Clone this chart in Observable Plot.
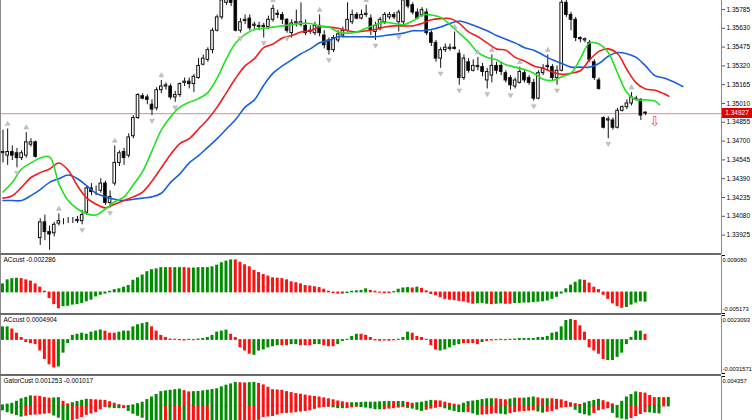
<!DOCTYPE html>
<html><head><meta charset="utf-8">
<script src="https://cdn.jsdelivr.net/npm/d3@7"></script>
<script src="https://cdn.jsdelivr.net/npm/@observablehq/plot@0.6"></script>
<style>
html,body{margin:0;padding:0;background:#fff;overflow:hidden;}
#chart{position:relative;width:752px;height:420px;overflow:hidden;background:#fff;font-family:"Liberation Sans",Arial,sans-serif;}
#chart svg{position:absolute;left:0;}
.sep{position:absolute;left:0;width:721px;height:2px;background:#6a6a6a;}
.pricebox{position:absolute;left:722px;width:30px;height:10px;background:#e00000;color:#fff;font-size:6.5px;line-height:10px;text-align:center;font-family:"Liberation Sans",Arial,sans-serif;}
</style></head>
<body><div id="chart"></div>
<script>
// ---------- price data (bar index 0..138) ----------
const open = [1.3460,1.3458,1.3461,1.3460,1.3456,1.3458,1.3467,1.3469,1.3390,1.3403,1.3395,1.3394,1.3402,1.3404,1.3404,1.3404,1.3404,1.3404,1.3411,1.3431,1.3429,1.3429,1.3435,1.3419,1.3435,1.3452,1.3461,1.3458,1.3474,1.3489,1.3507,1.3506,1.3500,1.3497,1.3512,1.3515,1.3515,1.3506,1.3508,1.3518,1.3519,1.3517,1.3522,1.3533,1.3537,1.3545,1.3561,1.3572,1.3584,1.3590,1.3586,1.3561,1.3569,1.3571,1.3565,1.3564,1.3564,1.3564,1.3570,1.3575,1.3574,1.3570,1.3559,1.3567,1.3566,1.3565,1.3561,1.3559,1.3565,1.3557,1.3553,1.3545,1.3553,1.3557,1.3561,1.3568,1.3574,1.3571,1.3574,1.3571,1.3560,1.3563,1.3568,1.3572,1.3574,1.3568,1.3568,1.3586,1.3582,1.3576,1.3574,1.3576,1.3559,1.3551,1.3538,1.3545,1.3546,1.3547,1.3542,1.3522,1.3535,1.3528,1.3531,1.3531,1.3520,1.3524,1.3532,1.3532,1.3526,1.3522,1.3515,1.3518,1.3526,1.3522,1.3518,1.3505,1.3526,1.3531,1.3531,1.3522,1.3528,1.3584,1.3574,1.3570,1.3555,1.3553,1.3551,1.3535,1.3520,1.3489,1.3487,1.3487,1.3481,1.3495,1.3498,1.3501,1.3504,1.3504,1.34935];
const close = [1.3461,1.3461,1.3458,1.3456,1.3460,1.3469,1.3469,1.3457,1.3403,1.3395,1.3393,1.3401,1.3404,1.3404,1.3404,1.3404,1.3405,1.3409,1.3431,1.3428,1.3429,1.3435,1.3419,1.3424,1.3452,1.3460,1.3456,1.3473,1.3489,1.3508,1.3505,1.3504,1.3496,1.3512,1.3515,1.3516,1.3506,1.3508,1.3517,1.3519,1.3517,1.3523,1.3532,1.3538,1.3545,1.3561,1.3572,1.3586,1.3590,1.3584,1.3561,1.3568,1.3570,1.3563,1.3566,1.3565,1.3565,1.3570,1.3579,1.3574,1.3570,1.3561,1.3567,1.3568,1.3568,1.3559,1.3560,1.3565,1.3559,1.3549,1.3545,1.3555,1.3558,1.3561,1.3570,1.3574,1.3571,1.3574,1.3575,1.3561,1.3565,1.3570,1.3574,1.3574,1.3572,1.3576,1.3586,1.3581,1.3576,1.3571,1.3578,1.3559,1.3551,1.3538,1.3545,1.3547,1.3547,1.3546,1.3522,1.3538,1.3528,1.3532,1.3532,1.3527,1.3527,1.3532,1.3528,1.3527,1.3520,1.3516,1.3520,1.3527,1.3520,1.3518,1.3505,1.3526,1.3530,1.3532,1.3522,1.3528,1.3584,1.3574,1.3570,1.3555,1.3554,1.3554,1.3537,1.3522,1.3513,1.3481,1.3488,1.3481,1.3495,1.3498,1.3501,1.3506,1.3505,1.3491,1.34927];
const high = [1.3479,1.3480,1.3466,1.3464,1.3462,1.3477,1.3472,1.3470,1.3406,1.3409,1.3400,1.3403,1.3410,1.3406,1.3407,1.3407,1.3408,1.3413,1.3433,1.3435,1.3433,1.3439,1.3437,1.3429,1.3466,1.3462,1.3464,1.3476,1.3491,1.3509,1.3509,1.3508,1.3504,1.3514,1.3520,1.3518,1.3517,1.3511,1.3518,1.3522,1.3522,1.3525,1.3538,1.3541,1.3547,1.3563,1.3574,1.3590,1.3594,1.3594,1.3588,1.3571,1.3574,1.3574,1.3568,1.3568,1.3567,1.3573,1.3582,1.3578,1.3576,1.3571,1.3570,1.3578,1.3584,1.3570,1.3565,1.3568,1.3574,1.3561,1.3555,1.3557,1.3561,1.3564,1.3584,1.3578,1.3576,1.3578,1.3582,1.3574,1.3568,1.3572,1.3576,1.3576,1.3576,1.3578,1.3590,1.3590,1.3584,1.3579,1.3580,1.3579,1.3561,1.3553,1.3547,1.3550,1.3550,1.3560,1.3545,1.3541,1.3538,1.3537,1.3539,1.3534,1.3530,1.3541,1.3535,1.3535,1.3528,1.3524,1.3522,1.3531,1.3528,1.3524,1.3521,1.3528,1.3533,1.3541,1.3533,1.3532,1.3588,1.3590,1.3576,1.3572,1.3556,1.3555,1.3553,1.3537,1.3522,1.3490,1.3490,1.3489,1.3497,1.3499,1.3504,1.3510,1.3507,1.3505,1.3494];
const low = [1.3452,1.3450,1.3454,1.3448,1.3454,1.3456,1.3465,1.3456,1.3384,1.3388,1.3380,1.3391,1.3400,1.3401,1.3402,1.3402,1.3402,1.3401,1.3409,1.3425,1.3425,1.3427,1.3417,1.3415,1.3433,1.3449,1.3450,1.3456,1.3472,1.3488,1.3504,1.3500,1.3491,1.3495,1.3509,1.3512,1.3504,1.3502,1.3506,1.3515,1.3513,1.3510,1.3521,1.3532,1.3535,1.3542,1.3560,1.3570,1.3582,1.3581,1.3560,1.3559,1.3566,1.3561,1.3562,1.3561,1.3555,1.3562,1.3568,1.3571,1.3566,1.3559,1.3555,1.3564,1.3564,1.3557,1.3558,1.3557,1.3556,1.3546,1.3541,1.3543,1.3551,1.3555,1.3560,1.3566,1.3570,1.3570,1.3572,1.3557,1.3553,1.3561,1.3566,1.3570,1.3570,1.3560,1.3566,1.3579,1.3574,1.3570,1.3572,1.3557,1.3548,1.3535,1.3530,1.3543,1.3544,1.3545,1.3516,1.3520,1.3526,1.3527,1.3528,1.3523,1.3513,1.3518,1.3525,1.3524,1.3518,1.3512,1.3513,1.3517,1.3518,1.3516,1.3503,1.3504,1.3524,1.3528,1.3520,1.3516,1.3527,1.3572,1.3561,1.3552,1.3551,1.3551,1.3535,1.3520,1.3512,1.3480,1.3472,1.3479,1.3480,1.3494,1.3496,1.3499,1.3503,1.3487,1.3491];
const currentPrice = 1.34927;
const yTicks = [1.35785,1.35630,1.35475,1.35320,1.35165,1.35010,1.34855,1.34700,1.34545,1.34390,1.34235,1.34080,1.33925];

// Alligator (values every 2 bars, shifted forward)
const jaw = [1.3421,1.3421,1.3421,1.3425,1.3430,1.3436,1.3439,1.3442,1.3439,1.3433,1.3427,1.3424,1.3422,1.3421,1.3422,1.3423,1.3424,1.3427,1.3436,1.3443,1.3452,1.3458,1.3465,1.3472,1.3480,1.3488,1.3498,1.3504,1.3516,1.3526,1.3532,1.3537,1.3542,1.3546,1.3551,1.3553,1.3556,1.3556,1.3556,1.3556,1.3556,1.3557,1.3558,1.3559,1.3561,1.3561,1.3562,1.3564,1.3567,1.3569,1.3567,1.3564,1.3561,1.3557,1.3554,1.3551,1.3547,1.3545,1.3541,1.3537,1.3534,1.3531,1.3531,1.3531,1.3534,1.3540,1.3543,1.3542,1.3539,1.3532,1.3524,1.3522,1.3519,1.3515];
const teeth = [1.3423,1.3425,1.3432,1.3440,1.3444,1.3447,1.3452,1.3446,1.3433,1.3423,1.3418,1.3415,1.3418,1.3421,1.3424,1.3428,1.3437,1.3448,1.3459,1.3468,1.3472,1.3480,1.3488,1.3498,1.3510,1.3522,1.3532,1.3538,1.3547,1.3550,1.3555,1.3557,1.3560,1.3561,1.3564,1.3564,1.3563,1.3561,1.3560,1.3561,1.3562,1.3564,1.3565,1.3565,1.3565,1.3567,1.3570,1.3571,1.3571,1.3567,1.3560,1.3556,1.3551,1.3546,1.3545,1.3539,1.3536,1.3532,1.3530,1.3527,1.3525,1.3526,1.3528,1.3537,1.3544,1.3546,1.3542,1.3529,1.3518,1.3513,1.3512,1.3509,1.3507];
const lips = [1.3428,1.3436,1.3447,1.3452,1.3456,1.3457,1.3435,1.3421,1.3414,1.3410,1.3409,1.3414,1.3420,1.3424,1.3434,1.3445,1.3462,1.3479,1.3490,1.3498,1.3502,1.3505,1.3510,1.3522,1.3538,1.3551,1.3558,1.3562,1.3563,1.3564,1.3565,1.3566,1.3567,1.3567,1.3565,1.3564,1.3560,1.3559,1.3560,1.3563,1.3566,1.3568,1.3567,1.3566,1.3569,1.3574,1.3574,1.3572,1.3566,1.3559,1.3552,1.3543,1.3539,1.3537,1.3533,1.3531,1.3529,1.3526,1.3521,1.3520,1.3523,1.3526,1.3538,1.3551,1.3550,1.3543,1.3526,1.3510,1.3504,1.3504,1.3503,1.3500];
const jawBars = d3.range(0, 147, 2);
const teethBars = [...d3.range(0, 143, 2), 143];
const lipsBars = [...d3.range(0, 141, 2), 141];

// Fractals and signal
const fractalUp = [1,5,12,24,34,58,64,68,74,78,97,102,105,111,117,135];
const fractalDown = [3,17,23,32,37,51,56,61,70,80,85,94,98,104,109,114,119,130];
const sellSignals = [{bar: 140, price: 1.3486}];

// ---------- Indicator panels ----------
const ac1 = [0.0020,0.0030,0.0033,0.0034,0.0033,0.0030,0.0027,0.0020,0.0012,0.0002,-0.0014,-0.0029,-0.0039,-0.0034,-0.0033,-0.0030,-0.0029,-0.0026,-0.0022,-0.0018,-0.0010,-0.0006,-0.0003,0.0002,0.0006,0.0008,0.0012,0.0016,0.0029,0.0035,0.0042,0.0050,0.0055,0.0057,0.0060,0.0060,0.0060,0.0060,0.0060,0.0060,0.0059,0.0059,0.0060,0.0060,0.0060,0.0062,0.0066,0.0072,0.0076,0.0079,0.0079,0.0073,0.0067,0.0062,0.0053,0.0048,0.0043,0.0039,0.0035,0.0034,0.0033,0.0030,0.0025,0.0023,0.0020,0.0016,0.0015,0.0013,0.0011,0.0007,0.0002,-0.0002,-0.0003,-0.0003,-0.0002,0.0002,0.0003,0.0004,0.0008,0.0004,0.0002,-0.0001,-0.0002,-0.0002,0.0001,0.0007,0.0010,0.0011,0.0010,0.0012,0.0009,0.0003,-0.0004,-0.0007,-0.0012,-0.0016,-0.0018,-0.0019,-0.0021,-0.0022,-0.0025,-0.0028,-0.0027,-0.0026,-0.0028,-0.0029,-0.0028,-0.0027,-0.0028,-0.0028,-0.0026,-0.0026,-0.0025,-0.0025,-0.0024,-0.0023,-0.0022,-0.0020,-0.0016,-0.0011,-0.0003,0.0008,0.0017,0.0024,0.0030,0.0029,0.0022,0.0012,0.0006,-0.0006,-0.0016,-0.0027,-0.0034,-0.0038,-0.0036,-0.0030,-0.0025,-0.0022,-0.002286];
const ac1Colors = [["g",4],["r",9],["g",23],["r",1],["g",2],["r",2],["g",9],["r",24],["g",5],["r",5],["g",4],["r",1],["g",1],["r",12],["g",3],["r",1],["g",2],["r",2],["g",15],["r",9],["g",5]];
const ac2 = [0.0012,0.0012,0.0010,0.0006,0.0002,-0.0002,-0.0003,-0.0004,-0.0010,-0.0018,-0.0023,-0.0026,-0.0025,-0.0012,-0.0003,0.0004,0.0005,0.0006,0.0005,0.0007,0.0008,0.0009,0.0008,0.0006,0.0006,0.0007,0.0008,0.0008,0.0012,0.0014,0.0015,0.0016,0.0012,0.0008,0.0004,0.0002,0.00005,0.00003,-0.00003,-0.00005,0.00003,-0.00003,0.00005,0.0001,0.0002,0.0004,0.0007,0.0008,0.0009,0.0005,0.0002,-0.0007,-0.0010,-0.0013,-0.0014,-0.0010,-0.0009,-0.0007,-0.0006,-0.0005,-0.0005,-0.0005,-0.0004,-0.0004,-0.0005,-0.0005,-0.0005,-0.0004,-0.0004,-0.0005,-0.0006,-0.0006,-0.0004,-0.0001,0.00003,0.0003,0.0005,0.0005,0.0004,0.0002,-0.00005,-0.00008,-0.00005,-0.00008,-0.00004,0.00003,0.0002,0.0007,0.0006,0.0003,0.0002,0.00003,-0.0005,-0.0009,-0.0010,-0.0009,-0.0007,-0.0005,-0.0004,-0.0003,-0.0003,-0.0003,-0.0004,-0.0002,-0.0001,-0.00005,-0.00003,0.00003,-0.00003,0.00003,0.00005,0.0001,0.0001,0.0001,0.0001,0.0002,0.0002,0.0003,0.0006,0.0007,0.0012,0.0018,0.0019,0.0018,0.0013,0.0007,-0.0007,-0.0010,-0.0013,-0.0018,-0.0019,-0.0019,-0.0016,-0.0012,-0.0004,0.0002,0.0008,0.0008,0.0004904];
const ac2Colors = [["g",2],["r",10],["g",10],["r",3],["g",7],["r",8],["g",1],["r",1],["g",7],["r",5],["g",6],["r",2],["g",2],["r",3],["g",2],["r",3],["g",5],["r",8],["g",3],["r",6],["g",5],["r",4],["g",1],["r",3],["g",1],["r",1],["g",14],["r",7],["g",8],["r",1]];
const gatorUp = [0.00017,0.00028,0.00041,0.0007,0.00106,0.00126,0.00148,0.00144,0.0014,0.00126,0.00115,0.00119,0.00123,0.0007,0.00032,0.00049,0.00066,0.00084,0.00098,0.00095,0.00091,0.00087,0.00083,0.00063,0.00041,0.00021,0.00004,0.00008,0.00017,0.00036,0.00057,0.00095,0.00132,0.00168,0.0021,0.0022,0.0023,0.00238,0.00246,0.00224,0.00206,0.0021,0.00213,0.00221,0.0023,0.00241,0.00252,0.0028,0.00304,0.00322,0.00344,0.0034,0.00336,0.0034,0.00344,0.00329,0.00308,0.00273,0.00238,0.00234,0.0023,0.0021,0.00196,0.00182,0.00172,0.0016,0.00148,0.0014,0.00132,0.00119,0.00106,0.00091,0.00074,0.00062,0.00049,0.00049,0.0005,0.00053,0.00057,0.00057,0.00058,0.00062,0.00066,0.00066,0.00065,0.00066,0.00066,0.00053,0.00041,0.00049,0.00057,0.0007,0.00083,0.00078,0.00074,0.00057,0.00041,0.00028,0.00017,0.00042,0.00066,0.00074,0.00083,0.00095,0.00106,0.00107,0.00106,0.00098,0.00091,0.00102,0.00115,0.00114,0.00115,0.00123,0.00132,0.00119,0.00106,0.00107,0.00106,0.00098,0.00091,0.0007,0.00049,0.00036,0.00025,0.00045,0.00066,0.00083,0.00098,0.00078,0.00057,0.00032,0.00008,0.0007,0.00132,0.00168,0.00206,0.00196,0.00189,0.00154,0.00123,0.00124,0.00123,0.001253];
const gatorDown = [-0.00057,-0.00084,-0.00106,-0.00126,-0.00148,-0.00136,-0.00123,-0.00119,-0.00115,-0.00106,-0.00098,-0.00132,-0.00164,-0.0021,-0.00246,-0.0021,-0.00181,-0.00154,-0.00123,-0.00104,-0.00083,-0.00042,-0.00008,-0.00017,-0.00025,-0.00026,-0.00025,-0.00066,-0.00106,-0.00136,-0.00164,-0.0021,-0.00252,-0.0028,-0.00304,-0.00303,-0.00304,-0.00298,-0.00294,-0.00295,-0.00294,-0.00273,-0.00252,-0.00238,-0.00221,-0.0023,-0.00238,-0.00259,-0.0028,-0.00284,-0.00287,-0.00274,-0.00263,-0.00252,-0.00238,-0.00196,-0.00154,-0.00147,-0.0014,-0.00119,-0.00098,-0.00095,-0.00091,-0.00083,-0.00074,-0.00066,-0.00057,-0.00036,-0.00017,-0.00008,-0.00004,-0.00014,-0.00025,-0.00026,-0.00025,-0.00013,-0.00004,-0.00011,-0.00017,-0.00028,-0.00041,-0.00041,-0.0004,-0.00032,-0.00025,-0.00017,-0.00008,-0.00021,-0.00032,-0.00049,-0.00066,-0.00049,-0.00032,-0.0002,-0.00008,-0.00028,-0.00049,-0.00066,-0.00083,-0.00083,-0.00082,-0.00102,-0.00123,-0.00119,-0.00115,-0.00106,-0.00098,-0.00106,-0.00115,-0.00098,-0.00083,-0.00074,-0.00066,-0.00062,-0.00057,-0.00074,-0.00091,-0.00078,-0.00066,-0.00042,-0.00017,-0.00008,-0.00004,-0.00049,-0.00098,-0.00115,-0.00132,-0.00095,-0.00057,-0.00042,-0.00025,-0.00094,-0.00164,-0.00176,-0.00189,-0.00168,-0.0014,-0.00112,-0.00083,-0.00087,-0.00095,-0.001017];

const panels = [
  {label: "ACcust -0.002286", domain: [-0.005173, 0.009080], ticks: ["-0.005173", "0.009080"]},
  {label: "ACcust 0.0004904", domain: [-0.0031571, 0.0023093], ticks: ["-0.0031571", "0.0023093"]},
  {label: "GatorCust 0.001253 -0.001017", domain: [-0.004357, 0.004357], ticks: [null, "0.004357"]}
];

// ---------- drawing ----------
const GREEN = "#008c00", RED = "#ff1010";
const FONT = "'Liberation Sans', Arial, sans-serif";
const xDomain = [-0.537, 154.32];
const chart = document.getElementById("chart");
const baseStyle = {fontFamily: FONT, fontSize: "6.5px", background: "transparent", overflow: "visible", color: "#000"};
function place(node, top) { node.style.top = top + "px"; chart.appendChild(node); }
const expand = (rle) => rle.flatMap(([c, n]) => Array(n).fill(c === "g" ? GREEN : RED));

const candles = open.map((o, i) => ({i, o, c: close[i], h: high[i], l: low[i]}));
const lineData = (bars, vals) => bars.map((b, k) => ({b, v: vals[k]}));

const main = Plot.plot({
  width: 752, height: 253, marginLeft: 0, marginRight: 31, marginTop: 0, marginBottom: 0,
  x: {domain: xDomain, axis: null},
  y: {domain: [1.337733, 1.358592]},
  style: baseStyle,
  marks: [
    Plot.ruleY([currentPrice], {stroke: "#f19a9a", strokeWidth: 1.2}),
    Plot.ruleX(candles, {x: "i", y1: "l", y2: "h", stroke: "#111", strokeWidth: 1, clip: true}),
    Plot.rect(candles, {x1: d => d.i - 0.28, x2: d => d.i + 0.28, y1: "o", y2: "c",
      fill: d => d.c >= d.o ? "#fff" : "#000", stroke: "#111", strokeWidth: 1, clip: true}),
    Plot.line(lineData(jawBars, jaw), {x: "b", y: "v", stroke: "#1c5fdc", strokeWidth: 1.6, curve: "catmull-rom"}),
    Plot.line(lineData(teethBars, teeth), {x: "b", y: "v", stroke: "#f01c1c", strokeWidth: 1.6, curve: "catmull-rom"}),
    Plot.line(lineData(lipsBars, lips), {x: "b", y: "v", stroke: "#22e022", strokeWidth: 1.6, curve: "catmull-rom"}),
    Plot.dot(fractalUp, {x: d => d, y: d => high[d], symbol: "triangle", r: 1.8, fill: "#c4c4c4", stroke: "#a0a0a0", strokeWidth: 0.4, dy: -5}),
    Plot.dot(fractalDown, {x: d => d, y: d => low[d], symbol: "triangle", r: 1.8, rotate: 180, fill: "#c4c4c4", stroke: "#a0a0a0", strokeWidth: 0.4, dy: 5}),
    Plot.text(sellSignals, {x: "bar", y: "price", text: () => "\u21E9", fill: "#ff3a3a", fontSize: 13, fontFamily: "DejaVu Sans"}),
    Plot.axisY(yTicks, {anchor: "right", tickSize: 3, tickPadding: 2, tickFormat: d => d.toFixed(5), fontSize: 6.5, label: null, stroke: "#555"}),
    Plot.frame({anchor: "left", stroke: "#8a8a8a"}),
    Plot.frame({anchor: "right", stroke: "#8a8a8a"})
  ]
});
place(main, 0);

// current price box (positioned with the plot's y scale)
const py = main.scale("y").apply(currentPrice);
const box = document.createElement("div");
box.className = "pricebox";
box.textContent = currentPrice.toFixed(5);
box.style.top = (py - 5) + "px";
chart.appendChild(box);

function histPanel(cfg, top, height, marks) {
  const [lo, hi] = cfg.domain;
  const axisMarks = [
    Plot.axisY([hi, lo], {anchor: "right", tickSize: 3, tickFormat: () => "", label: null}),
    Plot.axisY([hi], {anchor: "right", tickSize: 0, tickPadding: 1, dy: 5, tickFormat: () => cfg.ticks[1], fontSize: 5.8, label: null})
  ];
  if (cfg.ticks[0]) axisMarks.push(Plot.axisY([lo], {anchor: "right", tickSize: 0, tickPadding: 1, dy: -4, tickFormat: () => cfg.ticks[0], fontSize: 5.8, label: null}));
  const p = Plot.plot({
    width: 752, height, marginLeft: 0, marginRight: 31, marginTop: 0, marginBottom: 0,
    x: {domain: xDomain, axis: null},
    y: {domain: cfg.domain},
    style: baseStyle,
    marks: [
      ...marks,
      Plot.text([cfg.label], {frameAnchor: "top-left", dx: 3, dy: 2, lineAnchor: "top", textAnchor: "start", fontSize: 6.5, fill: "#000"}),
      ...axisMarks,
      Plot.frame({anchor: "left", stroke: "#8a8a8a"}),
      Plot.frame({anchor: "right", stroke: "#8a8a8a"})
    ]
  });
  place(p, top);
}

function bars(values, colors) {
  const data = values.map((v, i) => ({i, v, c: colors[i]}));
  return Plot.rect(data, {x1: d => d.i - 0.32, x2: d => d.i + 0.32, y1: () => 0, y2: "v", fill: "c", insetTop: -0.4, insetBottom: -0.4});
}

histPanel(panels[0], 255, 58, [bars(ac1, expand(ac1Colors))]);
histPanel(panels[1], 315, 58, [bars(ac2, expand(ac2Colors))]);
const upColors = gatorUp.map((v, i) => i === 0 || v >= gatorUp[i - 1] ? GREEN : RED);
const downColors = gatorDown.map((v, i) => i === 0 || Math.abs(v) >= Math.abs(gatorDown[i - 1]) ? GREEN : RED);
histPanel(panels[2], 376, 60, [bars(gatorUp, upColors), bars(gatorDown, downColors)]);

// panel separators
[253, 313, 374].forEach(t => { const s = document.createElement("div"); s.className = "sep"; s.style.top = t + "px"; chart.appendChild(s); });
</script>
</body></html>
